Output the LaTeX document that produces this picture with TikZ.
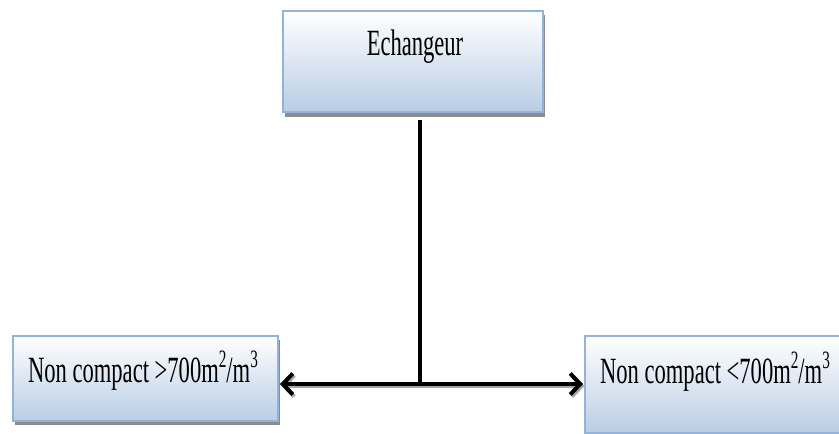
\documentclass[tikz,border=0pt]{standalone}
\usepackage{fontspec}
\usepackage{graphicx}
\setmainfont{Liberation Serif}
\usetikzlibrary{arrows.meta}

\definecolor{boxedge}{HTML}{95B3D7}
\definecolor{boxfoot}{HTML}{B9CDE5}
\definecolor{boxshadow}{HTML}{8C8C8C}

% narrow, tall lettering used in the boxes
\newcommand{\narrowtext}[1]{\scalebox{0.61}[1]{\fontsize{37}{40}\selectfont #1}}
% raised exponent
\newcommand{\expo}[1]{\raisebox{0.40em}{\fontsize{25}{25}\selectfont #1}}

\tikzset{
  panel/.style={rectangle, draw=boxedge, line width=2pt, top color=white,
    bottom color=boxfoot, inner sep=0pt, anchor=north west},
  panelshadow/.style={fill=boxshadow, draw=none},
  caption/.style={inner sep=0pt, anchor=base, text=black},
  trunk/.style={line width=3.5pt, black},
  branch/.style={line width=4.5pt, black,
    -{Straight Barb[length=10pt, width=21pt, line width=4pt]}},
  branchshadow/.style={branch, black!35},
}

\begin{document}
\begin{tikzpicture}[x=1pt, y=-1pt]
  \useasboundingbox (0,0) rectangle (839,434);
  \clip (0,0) rectangle (839,434);

  % drop shadows
  \fill[panelshadow] (285,15) rectangle (545,117);
  \fill[panelshadow] (15,340) rectangle (280,425);
  \fill[panelshadow] (587,340) rectangle (850,437);

  % boxes
  \node[panel, minimum width=260pt, minimum height=101pt] (top) at (282,10) {};
  \node[panel, minimum width=265pt, minimum height=85pt] (left) at (12,335) {};
  \node[panel, minimum width=262pt, minimum height=97pt] (right) at (584,335) {};

  % captions
  \node[caption] (toptext) at (415,55) {\narrowtext{Echangeur}};
  \node[caption] (lefttext) at (143,382) {\narrowtext{Non compact >700m\expo{2}/m\expo{3}}};
  \node[caption] (righttext) at (715,383) {\narrowtext{Non compact <700m\expo{2}/m\expo{3}}};

  % connectors
  \coordinate (fork) at (420,384);
  \coordinate (stem) at (420,120);
  \coordinate (forkshade) at (421.5,386);
  \draw[branchshadow] (forkshade) -- ([xshift=2.5pt, yshift=-2pt]left.east |- fork);
  \draw[branchshadow] (forkshade) -- ([xshift=0.5pt, yshift=-2pt]right.west |- fork);
  \draw[trunk] (stem) -- (fork);
  \draw[branch] (fork) -- ([xshift=1pt]left.east |- fork);
  \draw[branch] (fork) -- ([xshift=-1pt]right.west |- fork);
\end{tikzpicture}
\end{document}
